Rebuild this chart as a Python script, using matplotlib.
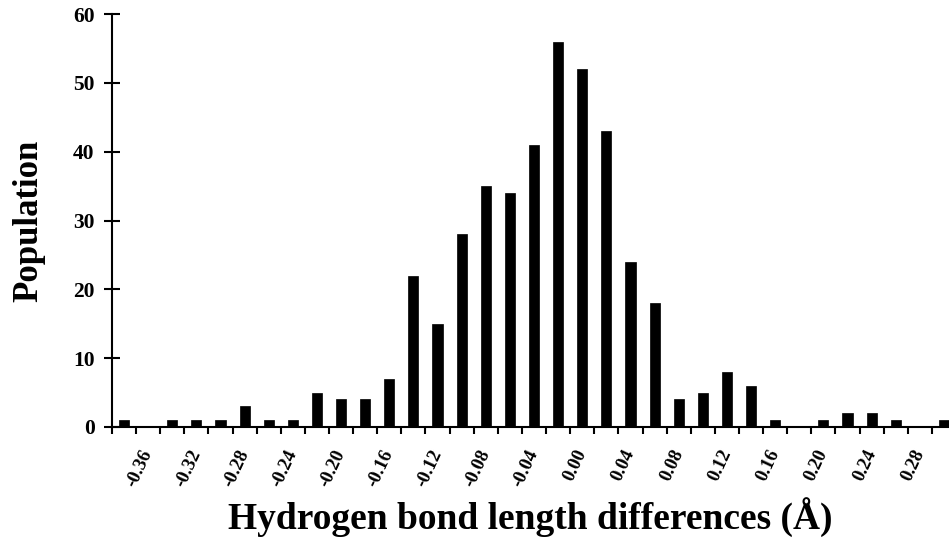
import matplotlib.pyplot as plt
import numpy as np

# histogram bins (Å) and counts
bins = ['-0.38', '-0.36', '-0.34', '-0.32', '-0.30', '-0.28', '-0.26', '-0.24',
        '-0.22', '-0.20', '-0.18', '-0.16', '-0.14', '-0.12', '-0.10', '-0.08',
        '-0.06', '-0.04', '-0.02', '0.00', '0.02', '0.04', '0.06', '0.08',
        '0.10', '0.12', '0.14', '0.16', '0.18', '0.20', '0.22', '0.24',
        '0.26', '0.28', '0.30']
population = [1, 0, 1, 1, 1, 3, 1, 1,
              5, 4, 4, 7, 22, 15, 28, 35,
              34, 41, 56, 52, 43, 24, 18, 4,
              5, 8, 6, 1, 0, 1, 2, 2,
              1, 0, 1]
yticks = [0, 10, 20, 30, 40, 50, 60]

plt.rcParams['font.family'] = 'Liberation Serif'
plt.rcParams['font.weight'] = 'bold'

fig = plt.figure(figsize=(9.49, 5.38), dpi=100)
# axis runs off the right edge in the original
ax = fig.add_axes([112/949, 1 - 427/538, 844/949, 413/538])

x = np.arange(len(bins))
ax.bar(x, population, width=0.42, color='black', edgecolor='black', linewidth=0.5)

ax.set_xlim(-0.5, len(bins) - 0.5)
ax.set_ylim(0, 60)

for s in ['top', 'right']:
    ax.spines[s].set_visible(False)
ax.spines['left'].set_linewidth(1.5)
ax.spines['bottom'].set_linewidth(1.5)

# tick marks at bin edges, labels on every other bin
ax.set_xticks(np.arange(len(bins) + 1) - 0.5)
ax.set_xticklabels([])
ax.tick_params(axis='x', which='major', direction='out', length=5, width=1.5)
lab_pos = x[1::2]
ax.set_xticks(lab_pos, minor=True)
ax.set_xticklabels([bins[i] for i in lab_pos], minor=True, fontsize=13.5)
ax.tick_params(axis='x', which='minor', length=0, pad=17)
for t in ax.get_xticklabels(minor=True):
    t.set_rotation(65)
    t.set_rotation_mode('anchor')
    t.set_ha('right')
    t.set_va('center')
    t.set_fontweight('bold')

ax.set_yticks(yticks)
ax.set_yticklabels([str(v) for v in yticks], fontsize=15.5, fontweight='bold')
ax.tick_params(axis='y', direction='inout', length=11, width=1.5, pad=7)

fig.text(29/949, 1 - 221/538, 'Population', rotation=90, ha='center', va='center',
         fontsize=25, fontweight='bold')
fig.text(530/949, 1 - 529/538, 'Hydrogen bond length differences (Å)', ha='center',
         va='baseline', fontsize=27, fontweight='bold')

fig.savefig('out.png', dpi=100)
